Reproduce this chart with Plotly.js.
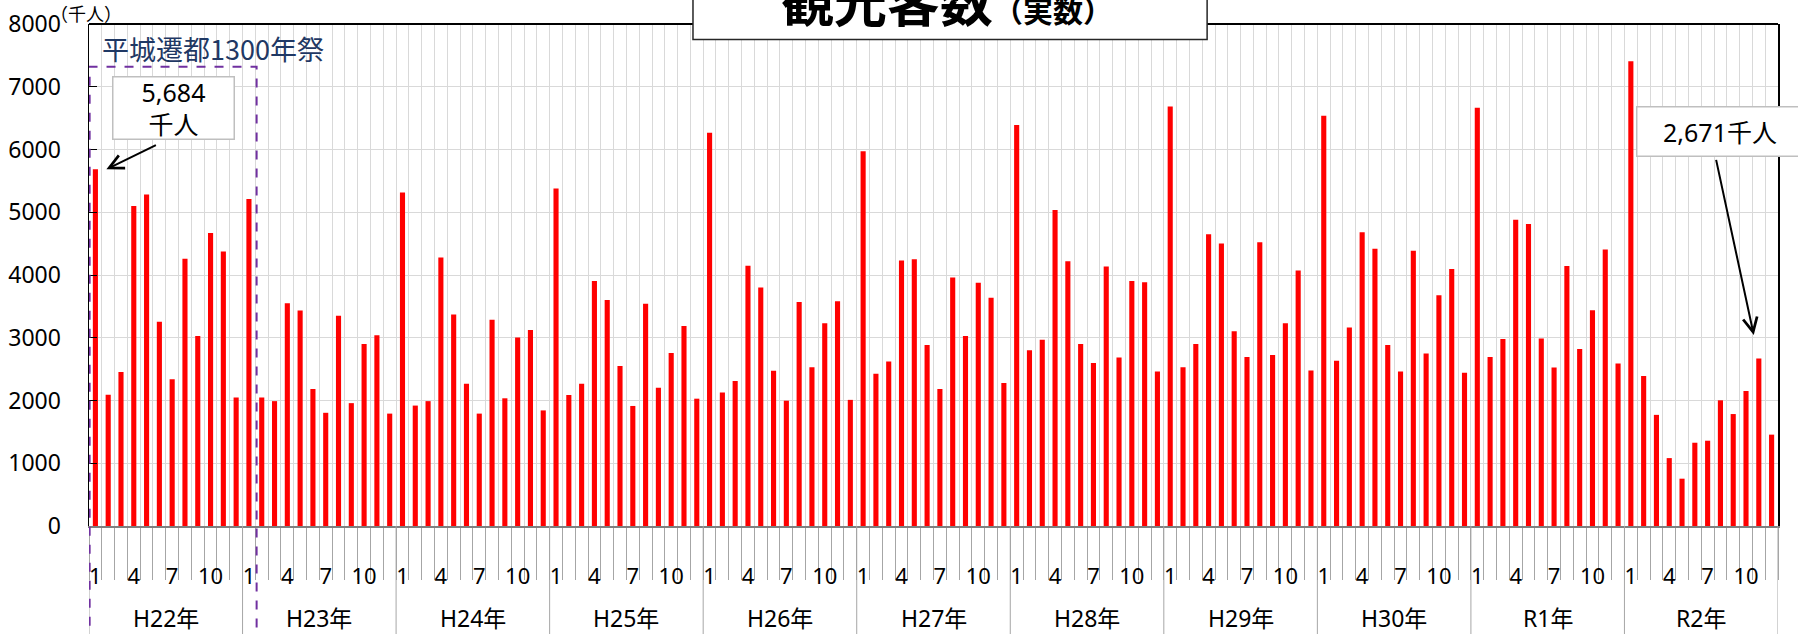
<!DOCTYPE html>
<html>
<head>
<meta charset="utf-8">
<script src="https://cdn.plot.ly/plotly-3.0.1.min.js"></script>
<style>
html,body{margin:0;padding:0;background:#fff;}
#chart{width:1798px;height:634px;}
</style>
</head>
<body>
<div id="chart"></div>
<script>
// Years (category groups) and month tick labels
const years = ['H22年','H23年','H24年','H25年','H26年','H27年','H28年','H29年','H30年','R1年','R2年'];
const months = ['1','2','3','4','5','6','7','8','9','10','11','12'];
const shownMonths = ['1','4','7','10'];

// Monthly visitors (thousand people), per year
const v_H22 = [5684,2093,2454,5101,5282,3253,2338,4258,3027,4670,4374,2048];
const v_H23 = [5211,2048,1990,3549,3433,2184,1804,3349,1958,2899,3040,1791];
const v_H24 = [5314,1919,1990,4277,3369,2267,1791,3285,2035,3002,3124,1842];
const v_H25 = [5378,2087,2267,3903,3601,2551,1913,3543,2203,2757,3188,2029];
const v_H26 = [6267,2126,2312,4148,3800,2473,1997,3568,2531,3233,3581,2010];
const v_H27 = [5971,2428,2622,4232,4251,2886,2184,3961,3027,3878,3639,2280];
const v_H28 = [6390,2802,2969,5037,4219,2899,2596,4135,2686,3903,3884,2461];
const v_H29 = [6686,2531,2899,4651,4502,3105,2692,4522,2725,3233,4071,2480];
const v_H30 = [6538,2635,3163,4683,4419,2886,2461,4386,2750,3678,4097,2441];
const v_R1  = [6667,2692,2982,4882,4812,2989,2525,4142,2821,3440,4406,2589];
const v_R2  = [7407,2390,1771,1082,754,1327,1359,2003,1784,2151,2671,1456];

const yearValues = [v_H22,v_H23,v_H24,v_H25,v_H26,v_H27,v_H28,v_H29,v_H30,v_R1,v_R2];

// Build flat series
const xs = [], ys = [];
yearValues.forEach((arr, yi) => arr.forEach((v, mi) => { xs.push(yi*12+mi); ys.push(v); }));
const n = xs.length;

const tickvals = [], ticktext = [];
xs.forEach(i => { const m = months[i % 12]; if (shownMonths.includes(m)) { tickvals.push(i); ticktext.push(m); } });
const boundaries = [];
for (let i = 0; i <= n; i++) boundaries.push(i - 0.5);

const FONT = 'Noto Sans, Noto Sans CJK JP, sans-serif';
const CJK = 'Noto Sans CJK JP, Noto Sans, sans-serif';

const shapes = [];
// year dividers below axis
for (let k = 0; k <= years.length; k++) {
  shapes.push({type:'line', xref:'x', yref:'paper', x0:k*12-0.5, x1:k*12-0.5, y0:0, y1:-0.3,
    line:{color:'#a6a6a6', width:1}, layer:'above'});
}
// top border
shapes.push({type:'line', xref:'paper', yref:'paper', x0:0, x1:1, y0:1, y1:1, line:{color:'#000', width:2}});
// Heijo festival dashed box (H22 Jan .. H23 Jan)
shapes.push({type:'rect', xref:'x', yref:'paper', x0:-0.45, x1:12.6, y0:-0.3, y1:0.915,
  line:{color:'#7030a0', width:2, dash:'dash'}, fillcolor:'rgba(0,0,0,0)', layer:'above'});
// title box
shapes.push({type:'rect', xref:'paper', yref:'paper', x0:0.3576, x1:0.662, y0:0.969, y1:1.12,
  line:{color:'#262626', width:1.5}, fillcolor:'#ffffff', layer:'above'});

const annotations = [];
years.forEach((y, k) => annotations.push({
  x: k*12 + 5.5, xref:'x', y: -0.183, yref:'paper', text: y, showarrow:false,
  xanchor:'center', yanchor:'middle', font:{family:FONT, size:23, color:'#000'}
}));
annotations.push({x:0.508, xref:'paper', y:1.05, yref:'paper', yanchor:'middle', xanchor:'center',
  text:'<b>観光客数</b><span style="font-size:30px"><b>（実数）</b></span>', showarrow:false,
  font:{family:CJK, size:53, color:'#000'}});
annotations.push({x:-0.002, xref:'paper', y:1.021, yref:'paper', xanchor:'center', yanchor:'middle',
  text:'（千人）', showarrow:false, font:{family:CJK, size:18, color:'#000'}});
annotations.push({x:0.0065, xref:'paper', y:0.952, yref:'paper', xanchor:'left', yanchor:'middle',
  text:'平城遷都1300年祭', showarrow:false, font:{family:CJK, size:27, color:'#1f3864'}});
// callout 1
annotations.push({x:0.0503, xref:'paper', y:0.8327, yref:'paper', xanchor:'center', yanchor:'middle',
  text:'5,684<br>千人', showarrow:false, width:118, height:59, borderpad:1,
  bordercolor:'#bfbfbf', borderwidth:1.5, bgcolor:'#fff', font:{family:FONT, size:25, color:'#000'}});
annotations.push({x:0, xref:'x', y:ys[0], yref:'y', xshift:11, text:'', showarrow:true,
  ax:51, ay:-25, axref:'pixel', ayref:'pixel', arrowhead:5, arrowsize:1.4, arrowwidth:2, arrowcolor:'#000'});
// callout 2
annotations.push({x:0.91592, xref:'paper', y:0.7849, yref:'paper', xanchor:'left', yanchor:'middle',
  text:'2,671千人', showarrow:false, width:151, height:34, borderpad:7, align:'center',
  bordercolor:'#bfbfbf', borderwidth:1.5, bgcolor:'#fff', font:{family:FONT, size:25, color:'#000'}});
annotations.push({x:130, xref:'x', y:ys[130], yref:'y', text:'', showarrow:true, standoff:24,
  ax:-43, ay:-200, axref:'pixel', ayref:'pixel', arrowhead:5, arrowsize:1.4, arrowwidth:2, arrowcolor:'#000'});

const trace = {type:'bar', x:xs, y:ys, marker:{color:'#ff0000', line:{width:0}}, hoverinfo:'skip'};

const layout = {
  width:1798, height:634,
  margin:{l:89, r:20, t:24, b:108, pad:0},
  paper_bgcolor:'#fff', plot_bgcolor:'#fff',
  bargap:0.6, showlegend:false,
  font:{family:FONT, color:'#000'},
  xaxis:{
    range:[-0.5, n-0.5], tickmode:'array', tickvals:tickvals, ticktext:ticktext,
    ticks:'', showgrid:false, zeroline:false, ticklabelstandoff:30,
    tickfont:{family:FONT, size:22, color:'#000'},
    showline:true, linecolor:'#7f7f7f', linewidth:1.5,
    minor:{tickmode:'array', tickvals:boundaries, ticks:'outside', ticklen:52, tickcolor:'#a6a6a6', tickwidth:1,
      showgrid:true, gridcolor:'#d9d9d9', gridwidth:1}
  },
  yaxis:{
    range:[0,8000], dtick:1000, tick0:0, ticks:'inside', ticklen:8, tickcolor:'#000', tickwidth:1,
    showgrid:true, gridcolor:'#d9d9d9', gridwidth:1, zeroline:false,
    showline:true, linecolor:'#000', linewidth:1.5, mirror:true,
    tickfont:{family:FONT, size:23, color:'#000'}, ticklabelstandoff:22
  },
  shapes:shapes, annotations:annotations
};

Plotly.newPlot('chart', [trace], layout, {staticPlot:true, displayModeBar:false});
</script>
</body>
</html>
